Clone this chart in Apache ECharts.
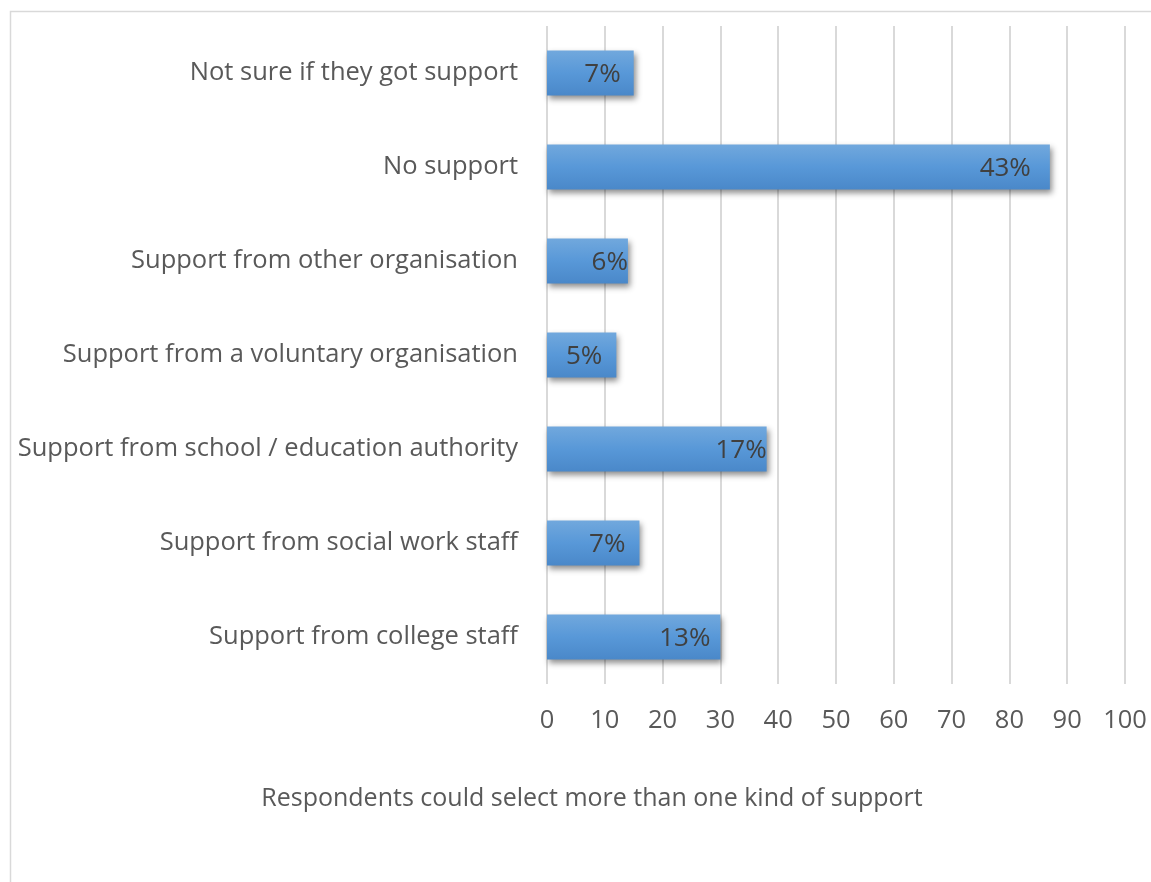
<!DOCTYPE html>
<html>
<head>
<meta charset="utf-8">
<script src="https://cdn.jsdelivr.net/npm/echarts@6/dist/echarts.min.js"></script>
<style>
  html, body { margin: 0; padding: 0; background: #fff; }
  #chart { width: 1151px; height: 882px; }
</style>
</head>
<body>
<div id="chart"></div>
<script>
// Kinds of support received (bottom to top on the axis)
const categories = [
  'Support from college staff',
  'Support from social work staff',
  'Support from school / education authority',
  'Support from a voluntary organisation',
  'Support from other organisation',
  'No support',
  'Not sure if they got support'
];
// Number of respondents per kind of support
const counts = [30, 16, 38, 12, 14, 87, 15];
// Share of respondents shown on each bar
const shareLabels = ['13%', '7%', '17%', '5%', '6%', '43%', '7%'];
// Value axis range and step
const axisMin = 0;
const axisMax = 100;
const axisStep = 10;
const footnote = 'Respondents could select more than one kind of support';

const chart = echarts.init(document.getElementById('chart'), null, { renderer: 'canvas' });
const font = 'Open Sans, Noto Sans, sans-serif';
const textColor = '#595959';

// How far each share label sits in from the end of its bar (px)
const labelInset = [10, 14, 0, 14, 0, 19, 13];

chart.setOption({
  animation: false,
  backgroundColor: '#ffffff',
  graphic: [
    {
      type: 'rect',
      shape: { x: 10.5, y: 11.5, width: 1160, height: 900 },
      style: { fill: 'none', stroke: '#d9d9d9', lineWidth: 1.5 },
      silent: true
    },
    {
      type: 'text',
      x: 592,
      y: 799,
      style: {
        text: footnote,
        fill: textColor,
        font: '25px ' + font,
        textAlign: 'center',
        textVerticalAlign: 'middle'
      },
      silent: true
    }
  ],
  grid: { left: 547, right: 26, top: 26, bottom: 198, containLabel: false },
  xAxis: {
    type: 'value',
    min: axisMin,
    max: axisMax,
    interval: axisStep,
    axisLine: { show: false },
    axisTick: { show: false },
    axisLabel: { color: textColor, fontSize: 25.5, fontFamily: font, margin: 24 },
    splitLine: { show: true, lineStyle: { color: '#d9d9d9', width: 2 } }
  },
  yAxis: {
    type: 'category',
    data: categories,
    axisLine: { show: false },
    axisTick: { show: false },
    axisLabel: { color: textColor, fontSize: 25.5, fontFamily: font, margin: 29, padding: [4, 0, 0, 0] }
  },
  series: [{
    type: 'bar',
    data: counts.map((v, i) => ({
      value: v,
      label: { distance: labelInset[i] }
    })),
    barWidth: 45,
    itemStyle: {
      color: new echarts.graphic.LinearGradient(0, 0, 0, 1, [
        { offset: 0, color: '#71a8dd' },
        { offset: 0.5, color: '#5898d8' },
        { offset: 1, color: '#4a88c9' }
      ]),
      shadowColor: 'rgba(0,0,0,0.45)',
      shadowBlur: 6,
      shadowOffsetX: 2,
      shadowOffsetY: 3
    },
    label: {
      show: true,
      position: 'insideRight',
      offset: [0, 2],
      color: '#404040',
      fontSize: 26,
      fontFamily: font,
      formatter: p => shareLabels[p.dataIndex]
    }
  }]
});
</script>
</body>
</html>
